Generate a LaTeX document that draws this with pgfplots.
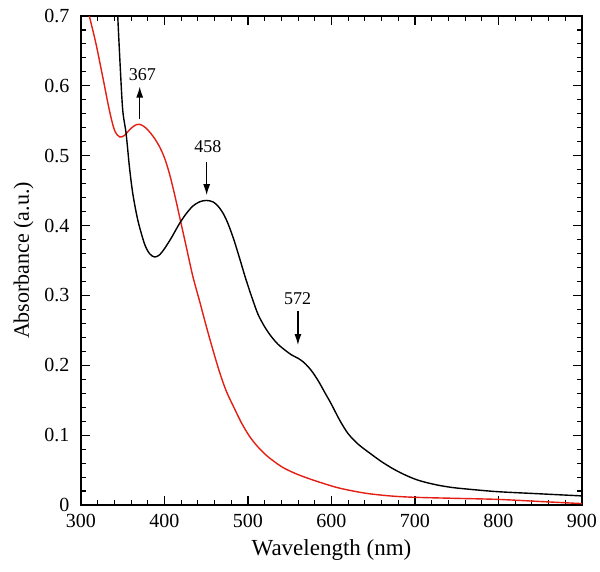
\documentclass[border=0pt]{standalone}
\usepackage{pgfplots}
\pgfplotsset{compat=1.18}
\usetikzlibrary{arrows.meta}
\usepackage{fontspec}
\setmainfont{Liberation Serif}
\definecolor{myred}{RGB}{228,30,20}
\begin{document}
\begin{tikzpicture}
\path[use as bounding box] (-81pt,-66pt) rectangle (519pt,505pt);
\begin{axis}[
  scale only axis, width=501pt, height=489pt,
  xmin=300, xmax=900, ymin=0, ymax=0.7,
  xtick={300,400,...,900}, ytick={0,0.1,...,0.7},
  minor tick num=4, tick pos=both, tick align=inside,
  major tick length=9pt, minor tick length=5pt,
  axis line style={line width=1.4pt}, every tick/.style={line width=1.1pt, black},
  /pgf/number format/assume math mode=true,
  /pgf/number format/fixed,
  every tick label/.append style={font=\fontsize{20}{22}\selectfont},
  xticklabel style={yshift=-6pt},
  yticklabel style={xshift=-8pt},
  xlabel={Wavelength (nm)}, ylabel={Absorbance (a.u.)},
  xlabel style={font=\fontsize{23}{25}\selectfont, yshift=-5pt},
  ylabel style={font=\fontsize{22}{24}\selectfont, yshift=4pt},
  clip=true,
]
\addplot[myred, line width=1.4pt, smooth] coordinates {
(308,0.712) (310,0.700) (318,0.660) (326,0.613) (334,0.565) (340,0.537) (346,0.527) (352,0.529)
(358,0.537) (364,0.543) (369,0.545) (374,0.543) (380,0.537) (388,0.525) (394,0.513)
(400,0.497) (406,0.474) (412,0.445) (418,0.413) (426,0.370) (434,0.327) (442,0.292)
(450,0.256) (458,0.222) (466,0.190) (474,0.163) (483,0.140) (492,0.118) (502,0.098)
(512,0.083) (524,0.069) (540,0.055) (555,0.046) (570,0.039) (590,0.031) (610,0.024)
(640,0.017) (670,0.013) (700,0.011) (750,0.0095) (800,0.008) (850,0.005) (900,0.002)
};
\addplot[black, line width=1.4pt, smooth] coordinates {
(343.5,0.720) (344,0.700) (347,0.627) (350,0.565) (354,0.532) (358,0.484) (362,0.446) (368,0.408)
(376,0.374) (382,0.360) (388,0.355) (394,0.358) (400,0.367) (408,0.382) (418,0.403)
(426,0.417) (434,0.428) (442,0.434) (450,0.436) (458,0.434) (464,0.428) (470,0.418)
(476,0.403) (483,0.380) (490,0.353) (497,0.325) (505,0.296) (512,0.273) (520,0.255)
(528,0.241) (536,0.230) (544,0.222) (552,0.215) (560,0.210) (566,0.205) (572,0.198)
(578,0.189) (585,0.176) (592,0.161) (600,0.144) (610,0.121) (620,0.102) (632,0.087)
(645,0.075) (660,0.062) (675,0.051) (690,0.042) (705,0.035) (725,0.029) (745,0.025)
(770,0.022) (800,0.019) (850,0.016) (900,0.013)
};
\draw[-{Latex[length=11pt,width=7pt]}, line width=1.2pt] (axis cs:370.3,0.553) -- (axis cs:370.3,0.599);
\node[font=\fontsize{18}{20}\selectfont] at (axis cs:373.5,0.616) {367};
\draw[-{Latex[length=11pt,width=7pt]}, line width=1.2pt] (axis cs:450.5,0.491) -- (axis cs:450.5,0.4435);
\node[font=\fontsize{18}{20}\selectfont] at (axis cs:452,0.513) {458};
\draw[-{Latex[length=11pt,width=7pt]}, line width=1.2pt] (axis cs:559.8,0.2775) -- (axis cs:559.8,0.229);
\node[font=\fontsize{18}{20}\selectfont] at (axis cs:559.4,0.295) {572};
\end{axis}
\end{tikzpicture}
\end{document}
